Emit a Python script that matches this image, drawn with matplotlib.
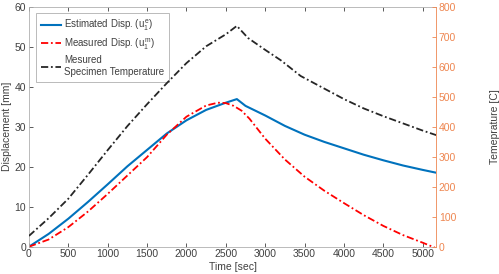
import numpy as np
import matplotlib
matplotlib.use('Agg')
import matplotlib.pyplot as plt

plt.rcParams['font.family'] = ['Liberation Sans', 'DejaVu Sans']
plt.rcParams['mathtext.fontset'] = 'custom'
plt.rcParams['mathtext.rm'] = 'Liberation Sans'
plt.rcParams['mathtext.it'] = 'Liberation Sans'

# Estimated displacement [mm]
t_est = [0, 250, 500, 750, 1000, 1250, 1500, 1750, 2000, 2250, 2500, 2640,
         2750, 3000, 3250, 3500, 3750, 4000, 4250, 4500, 4750, 5000, 5170]
u_est = [0, 3.2, 7.0, 11.2, 15.6, 20.1, 24.2, 28.3, 31.6, 34.2, 36.0, 36.9,
         35.2, 32.8, 30.2, 28.0, 26.2, 24.6, 23.0, 21.6, 20.3, 19.2, 18.5]

# Measured displacement [mm]
t_meas = [0, 250, 500, 750, 1000, 1250, 1500, 1750, 2000, 2250, 2400, 2500,
          2600, 2700, 2800, 2900, 3000, 3250, 3500, 3750, 4000, 4250, 4500,
          4750, 5000, 5150]
u_meas = [0, 1.8, 4.9, 8.8, 13.2, 17.8, 22.4, 28.0, 32.5, 35.3, 36.0, 35.9,
          35.2, 34.0, 32.0, 29.5, 27.0, 21.8, 17.5, 14.0, 10.9, 7.9, 5.2,
          2.9, 1.0, -0.2]

# Measured specimen temperature [C]
t_temp = [0, 250, 500, 750, 1000, 1250, 1500, 1750, 2000, 2250, 2500, 2640,
          2780, 3000, 3200, 3450, 3750, 4000, 4250, 4500, 4750, 5000, 5170]
temp = [36, 95, 160, 240, 322, 402, 475, 545, 612, 668, 708, 736,
        696, 656, 621, 569, 527, 492, 461, 435, 411, 387, 372]

fig = plt.figure(figsize=(4.99, 2.74), dpi=100)
ax = fig.add_axes([0.058, 0.0996, 0.816, 0.876])
ax2 = ax.twinx()

gray = '#404040'
orange = '#EE8650'
dashdot = (0, (4, 1.5, 1, 1.5))

l1, = ax.plot(t_est, u_est, color='#0072BD', lw=1.5, label='Estimated Disp. ($u_1^e$)')
l2, = ax.plot(t_meas, u_meas, color='red', lw=1.3, ls=dashdot, label='Measured Disp. ($u_1^m$)')
l3, = ax2.plot(t_temp, temp, color='#262626', lw=1.3, ls=dashdot,
               label='Mesured\nSpecimen Temperature')

ax.set_xlim(0, 5170)
ax.set_ylim(0, 60)
ax2.set_ylim(0, 800)
ax.set_xticks(np.arange(0, 5001, 500))
ax.set_yticks(np.arange(0, 61, 10))
ax2.set_yticks(np.arange(0, 801, 100))

ax.set_xlabel('Time [sec]', fontsize=7.5, color=gray, labelpad=2)
ax.set_ylabel('Displacement [mm]', fontsize=7.5, color=gray, labelpad=2)
ax2.set_ylabel('Temeprature [C]', fontsize=7.5, color=gray, labelpad=24)

ax.tick_params(axis='both', direction='in', labelsize=7.5, colors=gray,
               length=3, width=0.6, top=True, pad=2)
ax.tick_params(axis='y', right=False)
ax2.tick_params(axis='y', direction='in', labelsize=7.5, colors=orange,
                length=3, width=0.6, pad=2)

for s in ['left', 'bottom', 'top']:
    ax.spines[s].set_color('#b0b0b0')
    ax.spines[s].set_linewidth(0.6)
ax2.spines['right'].set_color(orange)
ax2.spines['right'].set_linewidth(0.6)
for s in ['left', 'bottom', 'top']:
    ax2.spines[s].set_visible(False)
ax.spines['right'].set_visible(False)

leg = ax.legend(handles=[l1, l2, l3], loc='upper left', fontsize=7,
                handlelength=2.1, handletextpad=0.3, borderpad=0.5,
                labelspacing=0.35, fancybox=False, framealpha=1,
                edgecolor='#b0b0b0', bbox_to_anchor=(0.005, 0.995))
leg.get_frame().set_linewidth(0.6)
for txt in leg.get_texts():
    txt.set_color(gray)

fig.savefig('out.png', dpi=100)
